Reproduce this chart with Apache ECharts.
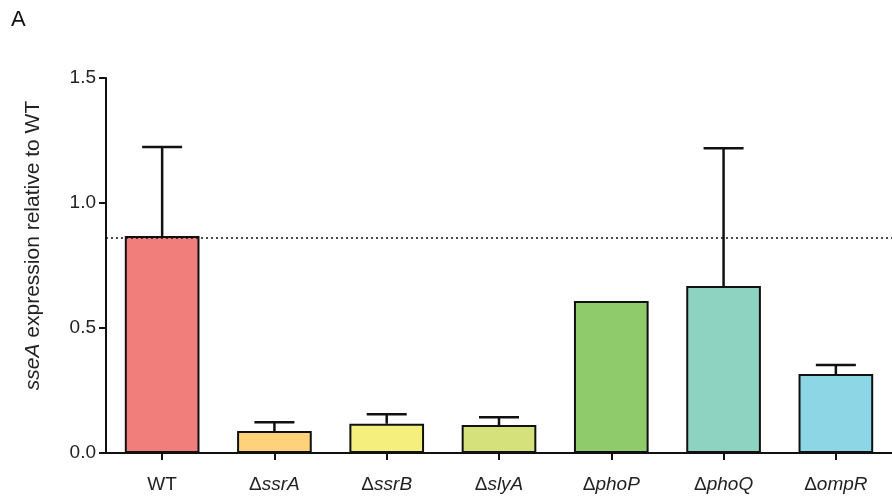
<!DOCTYPE html>
<html><head><meta charset="utf-8">
<script src="https://cdn.jsdelivr.net/npm/echarts@6/dist/echarts.min.js"></script>
<style>html,body{margin:0;padding:0;background:#fff}#c{width:892px;height:501px}</style>
</head><body><div id="c"></div>
<script>
const categories = ['WT', 'ssrA', 'ssrB', 'slyA', 'phoP', 'phoQ', 'ompR'];
const means = [0.868, 0.088, 0.117, 0.112, 0.608, 0.668, 0.316];
const errors = [0.356, 0.035, 0.038, 0.031, 0.0, 0.551, 0.036];
const colors = ['#F27E7B', '#FDD27A', '#F5EF7D', '#D5E17B', '#8FCB6B', '#8ED2C1', '#8DD6E6'];
const refLine = 0.863;
const yTicks = [0, 0.5, 1.0, 1.5];

const chart = echarts.init(document.getElementById('c'));
const font = 'Liberation Sans, Arial, sans-serif';
chart.setOption({
  animation: false,
  textStyle: { fontFamily: font },
  graphic: [{ type: 'text', left: 11, top: 9, style: { text: 'A', font: '22px ' + font, fill: '#111' } }],
  grid: { left: 106, top: 78, bottom: 48, width: 789 },
  xAxis: {
    type: 'category', data: categories,
    axisLine: { lineStyle: { color: '#111', width: 2 } },
    axisTick: { show: true, alignWithLabel: true, interval: 0, length: 7, lineStyle: { color: '#111', width: 2 } },
    axisLabel: {
      interval: 0, margin: 22, fontSize: 19, color: '#222',
      formatter: v => v === 'WT' ? '{n|WT}' : '{n|\u0394}{i|' + v + '}',
      rich: { n: { fontSize: 19, color: '#222', fontFamily: font }, i: { fontSize: 19, color: '#222', fontStyle: 'italic', fontFamily: font } }
    }
  },
  yAxis: {
    type: 'value', min: 0, max: 1.5, interval: 0.5,
    axisLine: { show: true, lineStyle: { color: '#111', width: 2 } },
    axisTick: { show: true, length: 7, lineStyle: { color: '#111', width: 2 } },
    axisLabel: { fontSize: 19, color: '#222', margin: 10, formatter: v => yTicks.includes(v) ? v.toFixed(1) : '' },
    splitLine: { show: false },
    name: '{i|sseA}{n| expression relative to WT}',
    nameLocation: 'middle', nameGap: 62, nameRotate: 90,
    nameTextStyle: {
      padding: [0, 0, 0, 40],
      rich: { i: { fontSize: 21, fontStyle: 'italic', color: '#222', fontFamily: font }, n: { fontSize: 21, color: '#222', fontFamily: font } }
    }
  },
  series: [
    {
      type: 'bar', barWidth: '66.5%',
      data: means.map((v, i) => ({ value: v, itemStyle: { color: colors[i] } })),
      itemStyle: { borderColor: '#111', borderWidth: 2 },
      markLine: {
        symbol: 'none', silent: true, label: { show: false },
        lineStyle: { color: '#111', type: [2, 3], width: 1.5 },
        data: [{ yAxis: refLine }]
      }
    },
    {
      type: 'custom', z: 5,
      data: means.map((m, i) => [i, m, m + errors[i]]),
      renderItem: (params, api) => {
        const x = api.value(0);
        const p0 = api.coord([x, api.value(1)]);
        const p1 = api.coord([x, api.value(2)]);
        if (api.value(2) - api.value(1) < 0.001) return { type: 'group', children: [] };
        const hw = 20;
        const st = { stroke: '#111', lineWidth: 2.5 };
        return {
          type: 'group', children: [
            { type: 'line', shape: { x1: p0[0], y1: p0[1], x2: p1[0], y2: p1[1] }, style: st },
            { type: 'line', shape: { x1: p1[0] - hw, y1: p1[1], x2: p1[0] + hw, y2: p1[1] }, style: st }
          ]
        };
      }
    }
  ]
});
</script></body></html>
